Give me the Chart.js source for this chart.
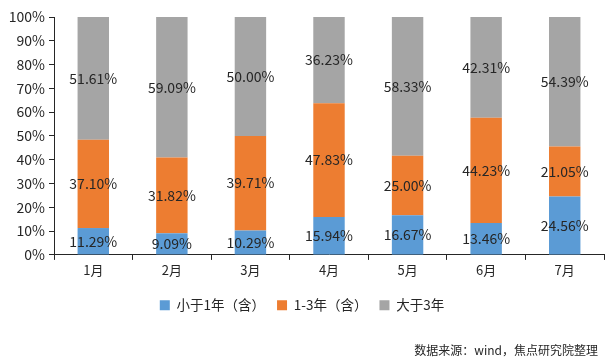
<!DOCTYPE html>
<html>
<head>
<meta charset="utf-8">
<script src="https://cdn.jsdelivr.net/npm/chart.js@4/dist/chart.umd.min.js"></script>
<style>
  body { margin: 0; background: #fff; }
  #box { width: 612px; height: 363px; position: relative; }
</style>
</head>
<body>
<div id="box"><canvas id="shareChart"></canvas></div>
<script>
// months along the x axis
var months = ["1月", "2月", "3月", "4月", "5月", "6月", "7月"];

// share of each term bucket, in percent
var underOne = [11.29, 9.09, 10.29, 15.94, 16.67, 13.46, 24.56];
var oneToThree = [37.10, 31.82, 39.71, 47.83, 25.00, 44.23, 21.05];
var overThree = [51.61, 59.09, 50.00, 36.23, 58.33, 42.31, 54.39];

var seriesNames = ["小于1年（含）", "1-3年（含）", "大于3年"];
var yTicks = [0, 10, 20, 30, 40, 50, 60, 70, 80, 90, 100];
var sourceNote = "数据来源：wind，焦点研究院整理";

var fontFamily = "'Noto Sans CJK SC', 'Noto Sans', sans-serif";

// writes the value in the middle of every bar segment
var segmentLabels = {
    id: 'segmentLabels',
    afterDatasetsDraw: function (chart) {
        var ctx = chart.ctx;
        ctx.save();
        ctx.font = "14px " + fontFamily;
        ctx.fillStyle = '#262626';
        ctx.textAlign = 'center';
        ctx.textBaseline = 'middle';
        chart.data.datasets.forEach(function (ds, i) {
            var meta = chart.getDatasetMeta(i);
            meta.data.forEach(function (bar, j) {
                var mid = (bar.y + bar.base) / 2;
                ctx.fillText(ds.data[j].toFixed(2) + '%', bar.x, mid);
            });
        });
        ctx.restore();
    }
};

// source line under the legend
var sourceText = {
    id: 'sourceText',
    afterDraw: function (chart) {
        var ctx = chart.ctx;
        ctx.save();
        ctx.font = "12px " + fontFamily;
        ctx.fillStyle = '#262626';
        ctx.textAlign = 'right';
        ctx.textBaseline = 'middle';
        ctx.fillText(sourceNote, 598, 350);
        ctx.restore();
    }
};

var ctx = document.getElementById('shareChart').getContext('2d');
var chart = new Chart(ctx, {
    type: 'bar',
    data: {
        labels: months,
        datasets: [{
            label: seriesNames[0],
            data: underOne,
            backgroundColor: '#5B9BD5'
        }, {
            label: seriesNames[1],
            data: oneToThree,
            backgroundColor: '#ED7D31'
        }, {
            label: seriesNames[2],
            data: overThree,
            backgroundColor: '#A5A5A5'
        }]
    },
    options: {
        responsive: true,
        maintainAspectRatio: false,
        animation: false,
        layout: {
            padding: { top: 17, right: 8, bottom: 41, left: 0 }
        },
        datasets: {
            bar: { categoryPercentage: 0.4, barPercentage: 1.0 }
        },
        scales: {
            x: {
                stacked: true,
                afterFit: function (axis) { axis.height += 7; },
                grid: {
                    display: true,
                    drawOnChartArea: false,
                    tickLength: 5,
                    color: '#262626'
                },
                border: { color: '#262626' },
                ticks: {
                    color: '#262626',
                    font: { family: fontFamily, size: 13 },
                    padding: 2
                }
            },
            y: {
                stacked: true,
                min: 0,
                max: 100,
                afterBuildTicks: function (axis) {
                    axis.ticks = yTicks.map(function (v) { return { value: v }; });
                },
                afterFit: function (axis) { axis.width = 54; },
                grid: {
                    display: true,
                    drawOnChartArea: false,
                    tickLength: 5,
                    color: '#262626'
                },
                border: { color: '#262626' },
                ticks: {
                    color: '#262626',
                    font: { family: fontFamily, size: 14 },
                    padding: 4,
                    callback: function (v) { return v + '%'; }
                }
            }
        },
        plugins: {
            legend: {
                position: 'bottom',
                labels: {
                    color: '#262626',
                    font: { family: fontFamily, size: 13.5 },
                    boxWidth: 10,
                    boxHeight: 10,
                    padding: 12
                }
            },
            tooltip: { enabled: false }
        }
    },
    plugins: [segmentLabels, sourceText]
});
</script>
</body>
</html>
